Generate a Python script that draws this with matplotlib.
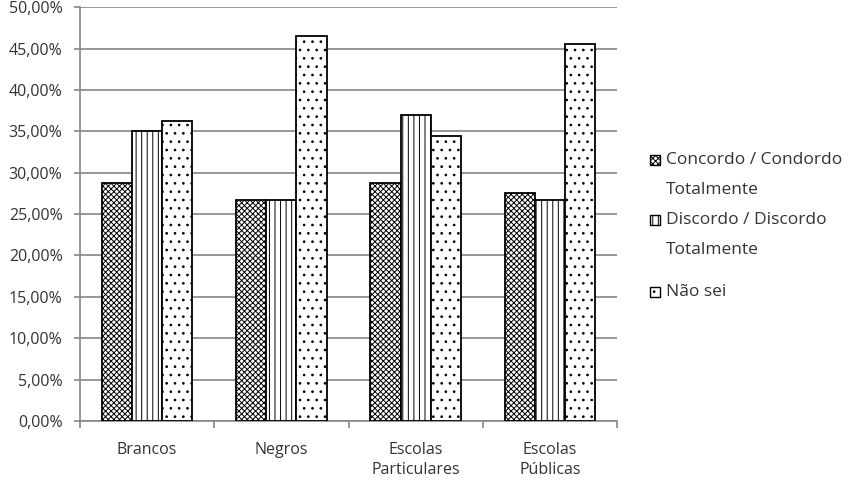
import matplotlib

matplotlib.use("Agg")
import matplotlib.pyplot as plt
import numpy as np
from matplotlib.patches import Rectangle
from matplotlib.ticker import FuncFormatter, FixedLocator

categories = ["Brancos", "Negros", "Escolas\nParticulares", "Escolas\nPúblicas"]
series_names = [
    "Concordo / Condordo\nTotalmente",
    "Discordo / Discordo\nTotalmente",
    "Não sei",
]
concordo = [28.75, 26.67, 28.75, 27.5]
discordo = [35.0, 26.67, 37.0, 26.67]
nao_sei = [36.25, 46.5, 34.4, 45.6]

hatches = ["xxxxxx", "|||", ".."]
text_col = "#333333"
grid_col = "#868686"

plt.rcParams["font.family"] = ["Open Sans", "DejaVu Sans"]
plt.rcParams["hatch.linewidth"] = 0.7

fig = plt.figure(figsize=(8.5, 4.8), dpi=100)
ax = fig.add_axes([0.094, 0.123, 0.632, 0.862])

x = np.arange(len(categories))
w = 0.225
for i, (vals, h) in enumerate(zip([concordo, discordo, nao_sei], hatches)):
    ax.bar(x + (i - 1) * w, vals, w, color="white", edgecolor="black",
           hatch=h, linewidth=1.3, zorder=3)

ax.set_xlim(-0.5, len(categories) - 0.5)
ax.set_ylim(0, 50)
ax.set_yticks(np.arange(0, 51, 5))
ax.yaxis.set_major_formatter(FuncFormatter(lambda v, p: f"{v:.2f}%".replace(".", ",")))
ax.grid(axis="y", color=grid_col, linewidth=1.2, zorder=0)

ax.set_xticks(x)
ax.set_xticklabels(categories, fontsize=11.5, color=text_col, linespacing=1.35)
ax.tick_params(axis="x", which="major", length=0, pad=15)
ax.xaxis.set_minor_locator(FixedLocator(np.arange(-0.5, len(categories), 1.0)))
ax.tick_params(axis="x", which="minor", length=5, color=grid_col, width=1.2)
ax.tick_params(axis="y", length=4.5, color=grid_col, width=1.2, labelsize=11.5,
               labelcolor=text_col, pad=8)

for s in ["top", "right"]:
    ax.spines[s].set_visible(False)
for s in ["left", "bottom"]:
    ax.spines[s].set_color(grid_col)
    ax.spines[s].set_linewidth(1.2)

# legend drawn by hand so the box sits on the first line of each label
W, H = 850, 480
entry_y = [160, 220, 292]
for name, h, y0 in zip(series_names, hatches, entry_y):
    fig.patches.append(Rectangle((650 / W, 1 - (y0 + 5) / H), 10 / W, 10 / H,
                                 transform=fig.transFigure, facecolor="white",
                                 edgecolor="black", hatch=h, linewidth=1.0))
    for k, line in enumerate(name.split("\n")):
        fig.text(666 / W, 1 - (y0 + 30 * k) / H, line, fontsize=12.5,
                 color=text_col, va="center", ha="left")

fig.savefig("out.png", dpi=100)
